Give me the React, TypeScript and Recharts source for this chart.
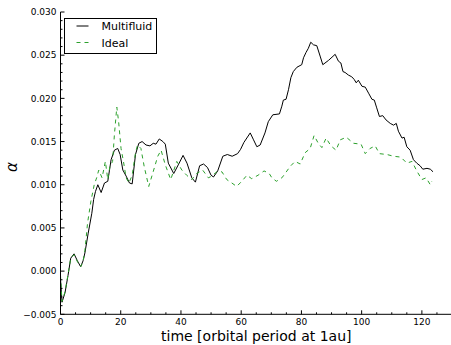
import React from "react";
import { LineChart, Line, XAxis, YAxis, Legend, Label } from "recharts";

// ---- data ----
const mfTime = [
  0, 0.5, 1.5, 2.5, 3.4, 4.5, 5.6, 6.7, 7.5, 8.1, 9.2, 10.4, 11.0, 11.6, 12.4, 13.5, 14.6, 15.7, 16.8, 17.9,
  19.0, 19.8, 20.7, 21.8, 22.9, 23.8, 24.9, 26.0, 27.1, 28.4, 29.7, 30.8, 31.7, 32.8, 34.0, 34.8, 35.8, 37.6,
  39.1, 40.7, 42.0, 43.6, 44.8, 46.2, 47.5, 48.8, 50.0, 50.8, 52.2, 53.9, 55.4, 57.0, 58.8, 59.8, 60.9, 63.0,
  64.1, 65.2, 66.3, 67.9, 69.0, 70.5, 72.7, 73.5, 74.0, 74.9, 75.7, 76.5, 77.3, 78.5, 80.1, 80.7, 81.5, 82.3,
  83.1, 84.0, 85.1, 86.2, 87.1, 89.0, 91.2, 92.3, 93.1, 93.8, 94.5, 95.6, 96.7, 97.5, 98.2, 98.9, 100.1, 101.2,
  102.3, 103.4, 104.2, 105.0, 105.9, 107.0, 108.1, 109.5, 110.6, 111.5, 112.2, 113.4, 114.1, 115.0, 116.1,
  117.2, 118.3, 119.4, 120.3, 121.7, 122.8, 123.7,
];
const mfAlpha = [
  -0.0009, -0.0036, -0.0025, -0.0005, 0.0015, 0.002, 0.0012, 0.0005, 0.0012, 0.0021, 0.0044, 0.0067, 0.0083,
  0.0092, 0.01, 0.0091, 0.0102, 0.0104, 0.0129, 0.014, 0.0142, 0.0135, 0.0117, 0.011, 0.0102, 0.0101, 0.0135,
  0.0148, 0.015, 0.0146, 0.0145, 0.0148, 0.0147, 0.0153, 0.015, 0.0147, 0.0125, 0.0113, 0.0123, 0.0134, 0.0125,
  0.0108, 0.0103, 0.0122, 0.0124, 0.012, 0.0111, 0.0109, 0.0116, 0.0133, 0.0135, 0.0133, 0.0136, 0.0141, 0.0149,
  0.016, 0.0152, 0.0144, 0.0146, 0.016, 0.0173, 0.0181, 0.0182, 0.0191, 0.0198, 0.0199, 0.021, 0.0224, 0.0231,
  0.0236, 0.0239, 0.0247, 0.0253, 0.0258, 0.0265, 0.0262, 0.0261, 0.0249, 0.0239, 0.0244, 0.0251, 0.0243,
  0.0241, 0.0231, 0.023, 0.0227, 0.0225, 0.0222, 0.0218, 0.0221, 0.0214, 0.0213, 0.0206, 0.0199, 0.0198,
  0.0189, 0.0179, 0.018, 0.0175, 0.0171, 0.0169, 0.0171, 0.0162, 0.0154, 0.0155, 0.0144, 0.014, 0.0129, 0.0125,
  0.0122, 0.0118, 0.0119, 0.0118, 0.0115,
];
const idealTime = [
  0, 0.5, 1.5, 2.5, 3.4, 4.5, 5.6, 6.7, 7.5, 8.1, 9.0, 10.1, 11.2, 12.0, 12.7, 13.8, 14.9, 15.7, 16.4, 17.3,
  17.9, 18.7, 19.3, 20.1, 20.9, 21.8, 22.7, 23.8, 24.9, 25.6, 26.7, 27.8, 29.3, 30.6, 32.3, 33.4, 34.8, 36.6,
  38.6, 40.3, 41.9, 43.6, 45.2, 47.2, 49.1, 50.2, 51.9, 53.6, 55.2, 56.9, 58.5, 60.2, 61.9, 63.5, 65.6, 67.6,
  69.3, 70.2, 71.7, 73.5, 74.6, 76.2, 77.9, 79.6, 81.2, 82.9, 84.2, 85.6, 86.8, 88.2, 89.8, 91.5, 92.9, 94.9,
  97.3, 99.8, 101.2, 102.8, 104.5, 105.9, 108.4, 110.6, 113.0, 115.0, 116.7, 118.3, 120.0, 121.4, 122.8, 123.3,
];
const idealAlpha = [
  -0.0005, -0.0035, -0.0024, -0.0004, 0.0015, 0.0019, 0.0011, 0.0005, 0.0011, 0.0024, 0.0056, 0.0081, 0.01,
  0.0108, 0.0117, 0.0108, 0.0127, 0.0106, 0.0121, 0.0127, 0.0158, 0.019, 0.0173, 0.0142, 0.0127, 0.0108, 0.0102,
  0.0111, 0.0137, 0.0146, 0.0142, 0.0121, 0.0098, 0.0113, 0.0133, 0.014, 0.0123, 0.0106, 0.0127, 0.0117, 0.0111,
  0.0106, 0.0113, 0.0117, 0.0108, 0.011, 0.0115, 0.0115, 0.0106, 0.0102, 0.0098, 0.0104, 0.0111, 0.0107, 0.0111,
  0.0116, 0.0113, 0.0108, 0.0104, 0.0108, 0.0113, 0.0121, 0.0127, 0.0124, 0.0137, 0.0142, 0.0157, 0.0148,
  0.0143, 0.0154, 0.0145, 0.014, 0.0152, 0.0155, 0.0148, 0.0147, 0.0136, 0.0142, 0.0145, 0.0136, 0.0135, 0.0133,
  0.0132, 0.0125, 0.0127, 0.0116, 0.0106, 0.0108, 0.01, 0.0104,
];

const xMajorTicks = [0, 20, 40, 60, 80, 100, 120];
const xAllTicks = [
  0, 5, 10, 15, 20, 25, 30, 35, 40, 45, 50, 55, 60, 65, 70, 75, 80, 85, 90, 95, 100, 105, 110, 115, 120, 125, 130,
];
const yMajorTicks = [-0.005, 0, 0.005, 0.01, 0.015, 0.02, 0.025, 0.03];
const yAllTicks = [
  -0.005, -0.004, -0.003, -0.002, -0.001, 0, 0.001, 0.002, 0.003, 0.004, 0.005, 0.006, 0.007, 0.008, 0.009,
  0.01, 0.011, 0.012, 0.013, 0.014, 0.015, 0.016, 0.017, 0.018, 0.019, 0.02, 0.021, 0.022, 0.023, 0.024, 0.025,
  0.026, 0.027, 0.028, 0.029, 0.03,
];

const seriesNames = ["Multifluid", "Ideal"];
const xTitle = "time [orbital period at 1au]";
const yTitle = "α";

const mfData = mfTime.map((t, i) => ({ t, a: mfAlpha[i] }));
const idealData = idealTime.map((t, i) => ({ t, a: idealAlpha[i] }));

const FONT = "DejaVu Sans, sans-serif";
const GREEN = "#2ca02c";

const isXMajor = (v: number) => xMajorTicks.some((m) => Math.abs(m - v) < 1e-9);
const isYMajor = (v: number) => yMajorTicks.some((m) => Math.abs(m - v) < 1e-9);
const fmtY = (v: number) => v.toFixed(3).replace("-", "\u2212");

const XTickBottom = (p: any) => {
  const { x, y, payload } = p;
  const major = isXMajor(payload.value);
  return (
    <g>
      <line x1={x} x2={x} y1={y} y2={y - (major ? 4 : 2)} stroke="#000" strokeWidth={1} />
      {major && (
        <text x={x} y={y + 10.5} textAnchor="middle" fontSize={9} fontFamily={FONT} fill="#000">
          {payload.value}
        </text>
      )}
    </g>
  );
};
const XTickTop = (p: any) => {
  const { x, y, payload } = p;
  const major = isXMajor(payload.value);
  return <line x1={x} x2={x} y1={y} y2={y + (major ? 4 : 2)} stroke="#000" strokeWidth={1} />;
};
const YTickLeft = (p: any) => {
  const { x, y, payload } = p;
  const major = isYMajor(payload.value);
  return (
    <g>
      <line x1={x} x2={x + (major ? 4 : 2)} y1={y} y2={y} stroke="#000" strokeWidth={1} />
      {major && (
        <text x={x - 4} y={y + 3.3} textAnchor="end" fontSize={9} fontFamily={FONT} fill="#000">
          {fmtY(payload.value)}
        </text>
      )}
    </g>
  );
};
const YTickRight = (p: any) => {
  const { x, y, payload } = p;
  const major = isYMajor(payload.value);
  return <line x1={x} x2={x - (major ? 4 : 2)} y1={y} y2={y} stroke="#000" strokeWidth={1} />;
};

const LegendBox = () => (
  <svg width={94} height={37} style={{ display: "block" }}>
    <rect x={0.5} y={0.5} width={92} height={35} fill="#fff" stroke="#000" strokeWidth={1} />
    <line x1={12.5} x2={24.5} y1={8} y2={8} stroke="#000" strokeWidth={1} />
    <text x={37.5} y={12} fontSize={11} fontFamily={FONT} fill="#000">
      {seriesNames[0]}
    </text>
    <line x1={12.5} x2={24.5} y1={24.5} y2={24.5} stroke={GREEN} strokeWidth={1} strokeDasharray="4 4" />
    <text x={37.5} y={28.5} fontSize={11} fontFamily={FONT} fill="#000">
      {seriesNames[1]}
    </text>
  </svg>
);

export default function App() {
  return (
    <div style={{ position: "absolute", left: 0, top: 0, width: 451, height: 345, overflow: "hidden", background: "#fff" }}>
      <LineChart width={460} height={345} margin={{ top: 12, right: 8, bottom: 0.7, left: 0.5 }}>
        <XAxis
          xAxisId="b"
          dataKey="t"
          type="number"
          domain={[0, 130]}
          ticks={xAllTicks}
          interval={0}
          tickSize={0}
          tickMargin={0}
          tick={<XTickBottom />}
          height={30}
          axisLine={{ stroke: "#000", strokeWidth: 1 }}
          tickLine={false}
          allowDataOverflow
        >
          <Label
            content={(props: any) => {
              const vb = props.viewBox;
              return (
                <text x={vb.x + vb.width / 2} y={vb.y + 27} textAnchor="middle" fontSize={14} fontFamily={FONT} fill="#000">
                  {xTitle}
                </text>
              );
            }}
          />
        </XAxis>
        <XAxis
          xAxisId="t"
          orientation="top"
          dataKey="t"
          type="number"
          domain={[0, 130]}
          ticks={xAllTicks}
          interval={0}
          tickSize={0}
          tickMargin={0}
          tick={<XTickTop />}
          height={0}
          axisLine={{ stroke: "#000", strokeWidth: 1 }}
          tickLine={false}
          allowDataOverflow
        />
        <YAxis
          yAxisId="l"
          type="number"
          domain={[-0.005, 0.03]}
          ticks={yAllTicks}
          interval={0}
          tickSize={0}
          tickMargin={0}
          tick={<YTickLeft />}
          width={60}
          axisLine={{ stroke: "#000", strokeWidth: 1 }}
          tickLine={false}
          allowDataOverflow
        >
          <Label
            content={(props: any) => {
              const vb = props.viewBox;
              const cx = vb.x + 12;
              const cy = vb.y + vb.height / 2 + 4;
              return (
                <text
                  x={cx}
                  y={cy}
                  transform={`rotate(-90 ${cx} ${cy})`}
                  textAnchor="middle"
                  dominantBaseline="central"
                  fontSize={15}
                  fontStyle="italic"
                  fontFamily={FONT}
                  fill="#000"
                >
                  {yTitle}
                </text>
              );
            }}
          />
        </YAxis>
        <YAxis
          yAxisId="r"
          orientation="right"
          type="number"
          domain={[-0.005, 0.03]}
          ticks={yAllTicks}
          interval={0}
          tickSize={0}
          tickMargin={0}
          tick={<YTickRight />}
          width={0}
          axisLine={{ stroke: "#000", strokeWidth: 1 }}
          tickLine={false}
          allowDataOverflow
        />
        <Line
          xAxisId="b"
          yAxisId="l"
          data={mfData}
          dataKey="a"
          name={seriesNames[0]}
          type="linear"
          stroke="#000"
          strokeWidth={1}
          dot={false}
          activeDot={false}
          isAnimationActive={false}
        />
        <Line
          xAxisId="b"
          yAxisId="l"
          data={idealData}
          dataKey="a"
          name={seriesNames[1]}
          type="linear"
          stroke={GREEN}
          strokeWidth={1}
          strokeDasharray="4 4"
          dot={false}
          activeDot={false}
          isAnimationActive={false}
        />
        <Legend
          layout="vertical"
          align="center"
          verticalAlign="middle"
          content={() => <LegendBox />}
          wrapperStyle={{ position: "absolute", left: 64, top: 18, width: 94, height: 37 }}
        />
      </LineChart>
    </div>
  );
}
